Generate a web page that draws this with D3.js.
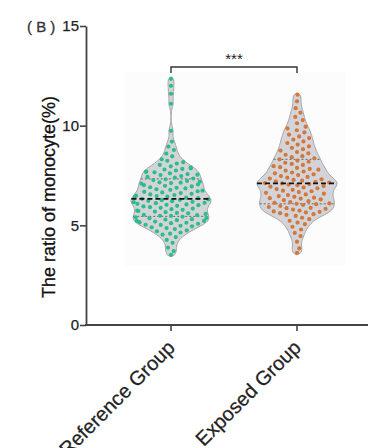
<!DOCTYPE html>
<html><head><meta charset="utf-8">
<script src="https://cdn.jsdelivr.net/npm/d3@7"></script>
<style>body{margin:0;background:#fff}svg{display:block;font-family:"Liberation Sans",Arial,sans-serif}</style>
</head><body>
<svg id="c" width="368" height="448"></svg>
<script>
const categories = ["Reference Group", "Exposed Group"];
const yTicks = [0, 5, 10, 15];
const panelLabel = "( B )";
const yTitle = "The ratio of monocyte(%)";
const sigLabel = "***";
const referenceValues = [3.52,3.71,3.88,4.12,4.27,4.41,
 4.53,4.58,4.64,4.70,4.75,4.81,4.86,4.90,4.95,4.98,
 5.02,5.03,5.08,5.11,5.13,5.16,5.19,5.22,5.22,5.26,5.29,5.31,5.36,5.37,5.40,5.43,5.47,5.48,
 5.51,5.53,5.57,5.60,5.62,5.66,5.69,5.72,5.74,5.78,5.81,5.84,5.88,5.91,5.95,5.98,
 6.01,6.03,6.05,6.08,6.11,6.13,6.16,6.18,6.21,6.23,6.26,6.28,6.30,6.33,6.36,6.39,6.42,6.44,6.47,6.49,
 6.52,6.55,6.58,6.62,6.65,6.68,6.71,6.74,6.78,6.81,6.85,6.88,6.91,6.95,6.98,
 7.02,7.05,7.09,7.12,7.14,7.16,7.19,7.23,7.27,7.31,7.35,7.39,7.43,7.47,
 7.52,7.54,7.57,7.61,7.66,7.68,7.70,7.75,7.80,7.83,7.86,7.91,7.96,
 8.03,8.10,8.17,8.24,8.31,8.46,
 8.60,8.78,8.95,9.20,9.74,
 11.1,11.6,12.0,12.35];
const exposedValues = [3.62,3.84,4.18,4.46,4.62,4.79,4.93,
 5.06,5.14,5.23,5.31,5.38,5.47,
 5.52,5.56,5.61,5.65,5.68,5.70,5.74,5.79,5.83,5.86,5.88,5.92,5.97,
 6.02,6.06,6.08,6.10,6.13,6.17,6.21,6.26,6.30,6.34,6.36,6.39,6.43,6.47,
 6.52,6.55,6.59,6.63,6.67,6.71,6.74,6.78,6.82,6.86,6.90,6.94,6.97,
 7.01,7.04,7.07,7.10,7.12,7.15,7.18,7.21,7.24,7.28,7.31,7.35,7.39,7.43,7.47,
 7.52,7.56,7.61,7.65,7.70,7.74,7.79,7.83,7.88,7.92,7.97,
 8.03,8.08,8.14,8.19,8.25,8.31,8.36,8.42,8.47,
 8.54,8.61,8.68,8.75,8.82,8.89,8.96,
 9.05,9.13,9.21,9.30,9.38,9.46,
 9.55,9.66,9.77,9.86,9.95,
 10.12,10.28,10.44,10.65,10.88,11.22,11.55];
const seriesValues = [referenceValues, exposedValues];
const dotColors = ["#2dbd88", "#d4773a"];

const svg = d3.select("#c");
const axisX = 86, axisX2 = 368;
const y = d3.scaleLinear().domain([0, 15]).range([325, 26]);
const x = d3.scalePoint().domain(categories).range([171, 297]);

// faint background patch
svg.append("rect").attr("x", 124).attr("y", 72).attr("width", 222).attr("height", 194).attr("fill", "#fcfcfc");

const halfMax = 40, bw = 0.22;
const dens = (vals, v) => d3.mean(vals, d => Math.exp(-0.5 * ((v - d) / bw) ** 2));

categories.forEach((cat, i) => {
  const vals = seriesValues[i].slice().sort(d3.ascending);
  const cx = x(cat);
  const lo = vals[0], hi = vals[vals.length - 1];
  const grid = d3.range(0, 141).map(k => lo + (hi - lo) * k / 140);
  const dd = grid.map(v => [v, dens(vals, v)]);
  const dmax = d3.max(dd, d => d[1]);
  const w = d3.scaleLinear().domain([0, dmax]).range([0, halfMax]);
  const pts = [[lo - 0.1, 0], ...dd, [hi + 0.1, 0]];
  const area = d3.area().curve(d3.curveBasis)
    .y(d => y(d[0])).x0(d => cx - w(d[1])).x1(d => cx + w(d[1]));
  svg.append("path").attr("d", area(pts)).attr("fill", "#d3d4d9").attr("stroke", "#a3a3a8").attr("stroke-width", 1);

  const widthAt = v => w(dens(vals, v));
  const q1 = d3.quantile(vals, 0.25), med = d3.quantile(vals, 0.5), q3 = d3.quantile(vals, 0.75);
  [q1, q3].forEach(v => {
    svg.append("line").attr("x1", cx - widthAt(v)).attr("x2", cx + widthAt(v))
      .attr("y1", y(v)).attr("y2", y(v)).attr("stroke", "#666").attr("stroke-width", 1).attr("stroke-dasharray", "2,2");
  });

  // beeswarm layout
  const s = 6.6;
  const placed = [];
  vals.forEach(v => {
    const py = y(v);
    const near = placed.filter(p => Math.abs(p.y - py) < s);
    const cands = [0];
    near.forEach(p => {
      const dx = Math.sqrt(s * s - (p.y - py) ** 2);
      cands.push(p.x + dx, p.x - dx);
    });
    cands.sort((a, b) => Math.abs(a) - Math.abs(b));
    const lim = Math.max(widthAt(v) - 2.5, 0);
    let chosen = 0;
    for (const c of cands) {
      if (near.every(p => (p.x - c) ** 2 + (p.y - py) ** 2 >= s * s - 0.01)) { chosen = c; break; }
    }
    if (Math.abs(chosen) > lim) chosen = Math.sign(chosen) * lim;
    placed.push({x: chosen, y: py});
  });
  svg.append("g").selectAll("circle").data(placed).join("circle")
    .attr("cx", d => cx + d.x).attr("cy", d => d.y).attr("r", 2.1).attr("fill", dotColors[i]);

  svg.append("line").attr("x1", cx - widthAt(med)).attr("x2", cx + widthAt(med))
    .attr("y1", y(med)).attr("y2", y(med)).attr("stroke", "#111").attr("stroke-width", 1.7).attr("stroke-dasharray", "5,3");
});

// y axis
const yAxis = svg.append("g").attr("transform", `translate(${axisX},0)`)
  .call(d3.axisLeft(y).tickValues(yTicks).tickSize(6).tickSizeOuter(0));
yAxis.select(".domain").attr("stroke", "#444").attr("stroke-width", 1.8);
yAxis.selectAll(".tick line").attr("stroke", "#444").attr("stroke-width", 1.6);
yAxis.selectAll(".tick text").attr("font-size", 15).attr("fill", "#222").attr("x", -7)
  .attr("stroke", "#222").attr("stroke-width", 0.25)
  .attr("font-family", "Liberation Sans, Arial, sans-serif");

// x axis
svg.append("line").attr("x1", axisX - 1).attr("x2", axisX2).attr("y1", y(0)).attr("y2", y(0))
  .attr("stroke", "#444").attr("stroke-width", 1.8);
categories.forEach(cat => {
  svg.append("line").attr("x1", x(cat)).attr("x2", x(cat)).attr("y1", y(0)).attr("y2", y(0) + 6)
    .attr("stroke", "#444").attr("stroke-width", 1.6);
  svg.append("text").attr("transform", `translate(${x(cat) + 5},${y(0) + 24}) rotate(-45)`)
    .attr("text-anchor", "end").attr("font-size", 20).attr("fill", "#222")
    .attr("stroke", "#222").attr("stroke-width", 0.25).text(cat);
});

// y title
svg.append("text").attr("transform", `translate(55,197) rotate(-90)`)
  .attr("text-anchor", "middle").attr("font-size", 18).attr("fill", "#111")
  .attr("stroke", "#111").attr("stroke-width", 0.3).text(yTitle);

// panel label
svg.append("text").attr("x", 27).attr("y", 32).attr("font-size", 15).attr("fill", "#333")
  .attr("stroke", "#333").attr("stroke-width", 0.3).text(panelLabel);

// significance bracket
const b1 = x(categories[0]), b2 = x(categories[1]);
svg.append("path").attr("d", `M${b1},73V67H${b2}V73`).attr("fill", "none").attr("stroke", "#333").attr("stroke-width", 1.4);
svg.append("text").attr("x", (b1 + b2) / 2).attr("y", 64).attr("text-anchor", "middle").attr("font-size", 15).attr("fill", "#222").text(sigLabel);
</script>
</body></html>
